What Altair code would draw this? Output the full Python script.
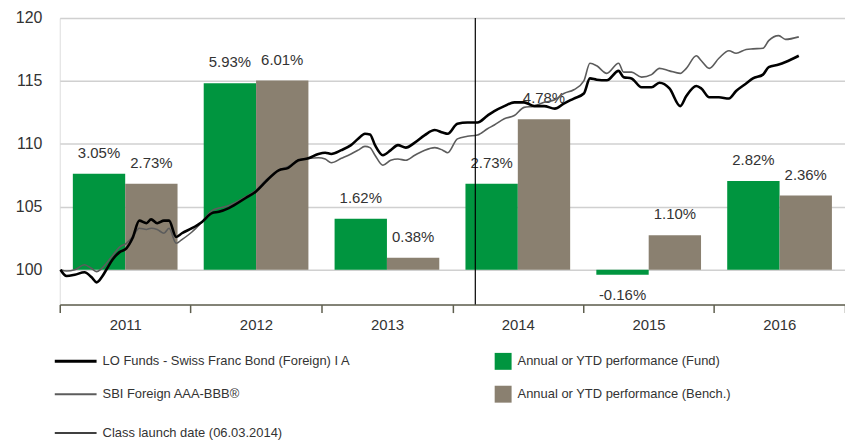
import altair as alt
import pandas as pd

# ---------------- data ----------------
dates = [
    "2011-01-03", "2011-01-20", "2011-02-12", "2011-03-11", "2011-03-31", "2011-04-14",
    "2011-04-28", "2011-05-11", "2011-05-28", "2011-06-17", "2011-07-06", "2011-07-23",
    "2011-08-11", "2011-08-31", "2011-09-13", "2011-09-30", "2011-10-19", "2011-11-02",
    "2011-11-22", "2011-12-08", "2012-01-05", "2012-02-02", "2012-03-01", "2012-03-20",
    "2012-04-17", "2012-06-03", "2012-07-01", "2012-07-29", "2012-09-03", "2012-09-30",
    "2012-10-28", "2012-11-25", "2012-12-23", "2013-01-11", "2013-01-28", "2013-02-25",
    "2013-03-24", "2013-04-13", "2013-05-02", "2013-05-16", "2013-05-30", "2013-06-21",
    "2013-07-13", "2013-08-02", "2013-08-24", "2013-09-18", "2013-10-16", "2013-11-13",
    "2013-12-05", "2013-12-19", "2014-01-15", "2014-02-12", "2014-03-12", "2014-04-09",
    "2014-04-28", "2014-05-26", "2014-06-23", "2014-07-20", "2014-08-17", "2014-09-14",
    "2014-10-14", "2014-11-08", "2014-12-06", "2015-01-03", "2015-01-20", "2015-02-08",
    "2015-03-08", "2015-04-10", "2015-04-24", "2015-05-16", "2015-06-13", "2015-07-11",
    "2015-08-02", "2015-08-30", "2015-09-29", "2015-10-16", "2015-11-13", "2015-11-27",
    "2015-12-19", "2016-01-15", "2016-02-12", "2016-03-03", "2016-03-31", "2016-04-19",
    "2016-05-17", "2016-06-02", "2016-06-30", "2016-07-19", "2016-08-25",
]
fund_index = [
    100.0, 99.5, 99.6, 99.8, 99.4, 99.0,
    99.4, 100.0, 100.8, 101.4, 101.7, 102.5,
    103.9, 103.7, 104.0, 103.7, 103.9, 103.9,
    102.6, 102.9, 103.3, 103.8, 104.5, 104.6,
    104.9, 105.7, 106.2, 107.0, 107.9, 108.1,
    108.7, 108.85, 109.2, 109.3, 109.2, 109.5,
    109.9, 110.4, 110.8, 110.75, 109.9, 109.1,
    109.5, 109.9, 109.7, 110.1, 110.7, 111.1,
    110.9, 110.8, 111.6, 111.7, 111.7, 112.25,
    112.6, 113.0, 113.3, 113.3, 113.0, 113.0,
    112.8, 113.2, 113.6, 114.0, 115.2, 115.1,
    115.05, 115.8, 115.3, 115.2, 114.5, 114.5,
    114.85, 114.4, 113.0, 113.8, 114.6, 114.4,
    113.7, 113.7, 113.6, 114.2, 114.8, 115.2,
    115.5, 116.1, 116.3, 116.5, 117.0,
]
bench_index = [
    100.0, 99.9, 100.0, 100.4, 100.1, 99.85,
    100.1, 100.5, 101.1, 101.8, 102.1, 102.6,
    103.3, 103.2, 103.3, 103.2, 102.9, 103.3,
    102.1, 102.4, 103.0, 103.8, 104.7, 104.9,
    105.1, 105.8, 106.3, 107.1, 107.9, 108.2,
    108.7, 108.85, 108.9, 108.8, 108.5, 108.85,
    109.2, 109.5, 109.8, 109.7, 109.1, 108.3,
    108.7, 108.8, 108.7, 109.1, 109.5, 109.7,
    109.5, 109.3, 110.4, 110.6, 110.7, 111.2,
    111.5, 112.0, 112.25, 112.9, 113.0, 113.3,
    113.5, 114.0, 114.3, 115.0, 116.4, 116.2,
    115.6, 116.4, 115.7, 115.7, 115.3, 115.5,
    116.0, 115.8, 115.6, 116.0, 117.0, 116.6,
    116.0, 116.8, 117.4, 117.2, 117.5, 117.55,
    117.6, 118.2, 118.6, 118.3, 118.5,
]

years = ["2011", "2012", "2013", "2014", "2015", "2016"]
fund_perf = [3.05, 5.93, 1.62, 2.73, -0.16, 2.82]
bench_perf = [2.73, 6.01, 0.38, 4.78, 1.10, 2.36]

launch_date = "2014-03-06"

line_names = ["LO Funds - Swiss Franc Bond (Foreign) I A", "SBI Foreign AAA-BBB®"]
bar_names = ["Annual or YTD performance (Fund)", "Annual or YTD performance (Bench.)"]
launch_name = "Class launch date (06.03.2014)"

y_ticks = [100, 105, 110, 115, 120]

# ---------------- styling ----------------
FONT = "Liberation Sans"
GREEN = "#00953F"
TAUPE = "#8A8070"
GRAY_LINE = "#5c5c5c"
TEXT = "#333333"
AXIS = "#5f5f4f"
W, H = 789, 288
Y_DOMAIN = [97.23, 120]
BAR_SCALE = 2.5  # bar height in index points per 1% of performance
NUM_SIZE = 15
YLAB_SIZE = 16
LEG_SIZE = 13

line_df = pd.DataFrame({"date": dates, "fund": fund_index, "bench": bench_index})
bar_df = pd.DataFrame({
    "year": years * 2,
    "kind": [bar_names[0]] * len(years) + [bar_names[1]] * len(years),
    "perf": fund_perf + bench_perf,
})
launch_df = pd.DataFrame({"date": [launch_date]})

first_year, last_year = int(years[0]), int(years[-1])
x_domain = [alt.DateTime(year=first_year, month=1, date=1, utc=True),
            alt.DateTime(year=last_year + 1, month=1, date=1, utc=True)]
x_scale = alt.Scale(type="utc", domain=x_domain)
y_scale = alt.Scale(domain=Y_DOMAIN, nice=False, zero=False)

x_axis = alt.Axis(
    values=[alt.DateTime(year=y, month=1, date=1, utc=True) for y in range(first_year, last_year + 2)],
    labelExpr=f"utcyear(datum.value) > {last_year} ? '' : utcFormat(datum.value, '%Y')",
    labelOffset=W / len(years) / 2,
    labelAlign="center",
    labelFont=FONT, labelFontSize=NUM_SIZE, labelColor=TEXT, labelPadding=5,
    tickSize=8, tickColor=AXIS, tickWidth=1.5,
    domainColor=AXIS, domainWidth=1.5,
    grid=False, title=None,
)
y_axis = alt.Axis(
    values=y_ticks, grid=True, gridColor="#d0d0d0", gridWidth=1.5,
    domain=False, ticks=False, labelFont=FONT, labelFontSize=YLAB_SIZE,
    labelColor=TEXT, labelPadding=18, title=None,
)

# ---------------- bars + labels ----------------
bx = alt.X("year:N", scale=alt.Scale(paddingInner=0.2, paddingOuter=0.1), axis=None)
bxo = alt.XOffset("kind:N", scale=alt.Scale(domain=bar_names, paddingInner=0, paddingOuter=0))
bar_base = alt.Chart(bar_df).transform_calculate(
    top=f"100 + {BAR_SCALE} * datum.perf",
    label="(datum.perf < 0 ? '-' : '') + format(abs(datum.perf), '.2f') + '%'",
)
bars = bar_base.mark_bar().encode(
    x=bx, xOffset=bxo,
    y=alt.Y("top:Q", scale=y_scale, axis=y_axis),
    y2=alt.datum(100),
    color=alt.Color("kind:N", scale=alt.Scale(domain=bar_names, range=[GREEN, TAUPE]), legend=None),
)
txt_pos = bar_base.transform_filter("datum.perf >= 0").mark_text(
    dy=-21, baseline="middle", align="center", font=FONT, fontSize=NUM_SIZE, color=TEXT
).encode(x=bx, xOffset=bxo, y=alt.Y("top:Q", scale=y_scale), text="label:N")
txt_neg = bar_base.transform_filter("datum.perf < 0").mark_text(
    dy=20, baseline="middle", align="center", font=FONT, fontSize=NUM_SIZE, color=TEXT
).encode(x=bx, xOffset=bxo, y=alt.Y("top:Q", scale=y_scale), text="label:N")
bar_group = alt.layer(bars, txt_pos, txt_neg)

# ---------------- lines + launch rule ----------------
lx = alt.X("date:T", scale=x_scale, axis=x_axis)
bench_line = alt.Chart(line_df).mark_line(color=GRAY_LINE, strokeWidth=1.6, interpolate="monotone").encode(
    x=lx, y=alt.Y("bench:Q", scale=y_scale))
fund_line = alt.Chart(line_df).mark_line(color="black", strokeWidth=2.6, interpolate="monotone").encode(
    x=lx, y=alt.Y("fund:Q", scale=y_scale))
launch_rule = alt.Chart(launch_df).mark_rule(color="black", strokeWidth=1.2).encode(
    x=alt.X("date:T", scale=x_scale), y=alt.value(0), y2=alt.value(H))
line_group = alt.layer(bench_line, fund_line, launch_rule)

# ---------------- legend (drawn manually below the plot) ----------------
ROWS = [345, 378, 417]
LX0, LX1, LTX = -5, 37, 43
SQX, STX = 445.5, 460
leg = []
for name, color, width, row in [(line_names[0], "black", 3, ROWS[0]),
                                (line_names[1], GRAY_LINE, 2, ROWS[1]),
                                (launch_name, "black", 1.4, ROWS[2])]:
    leg.append(alt.Chart(pd.DataFrame({"n": [name]})).mark_rule(color=color, strokeWidth=width).encode(
        x=alt.value(LX0), x2=alt.value(LX1), y=alt.value(row)))
    leg.append(alt.Chart(pd.DataFrame({"n": [name]})).mark_text(
        align="left", baseline="middle", font=FONT, fontSize=LEG_SIZE, color=TEXT).encode(
        x=alt.value(LTX), y=alt.value(row), text="n:N"))
for name, color, row in [(bar_names[0], GREEN, ROWS[0]), (bar_names[1], TAUPE, ROWS[1])]:
    leg.append(alt.Chart(pd.DataFrame({"n": [name]})).mark_square(color=color, size=289, opacity=1).encode(
        x=alt.value(SQX), y=alt.value(row)))
    leg.append(alt.Chart(pd.DataFrame({"n": [name]})).mark_text(
        align="left", baseline="middle", font=FONT, fontSize=LEG_SIZE, color=TEXT).encode(
        x=alt.value(STX), y=alt.value(row), text="n:N"))

chart = alt.layer(bar_group, line_group, *leg).resolve_scale(x="independent").properties(
    width=W, height=H,
    autosize=alt.AutoSizeParams(type="none"),
    padding={"left": 52, "top": 9, "right": 0, "bottom": 138},
).configure_view(stroke=None).configure(background="white")

chart.save("out.html", embed_options={"renderer": "svg", "actions": False})
